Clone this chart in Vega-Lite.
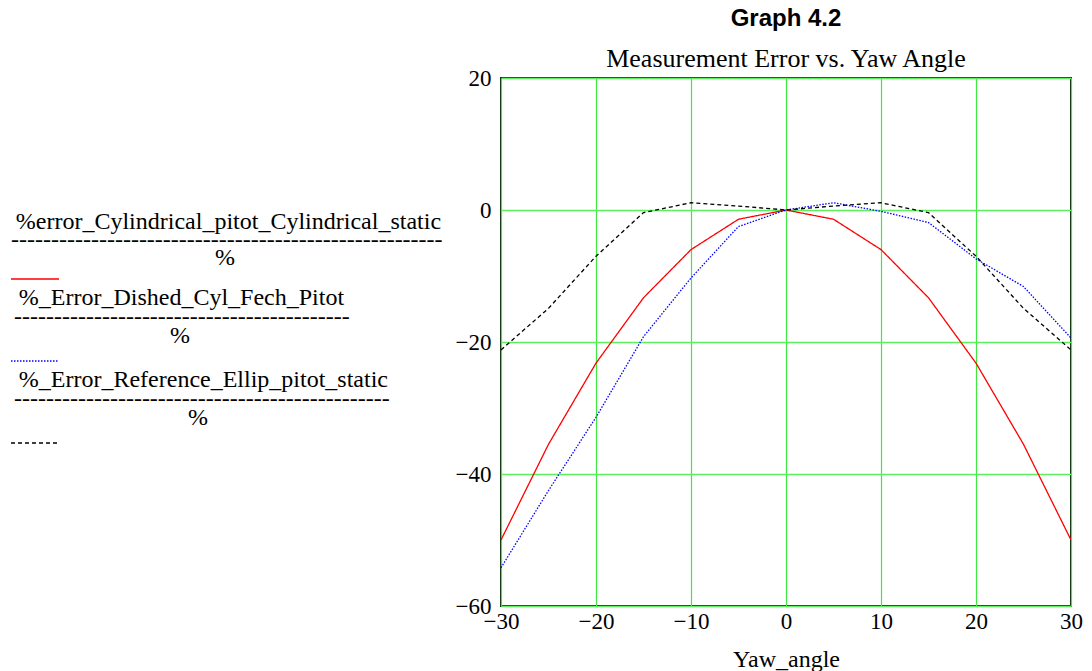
{
  "$schema": "https://vega.github.io/schema/vega-lite/v6.json",
  "width": 570,
  "height": 528,
  "autosize": {"type": "none"},
  "padding": {"left": 501, "top": 78, "right": 21, "bottom": 65},
  "background": "white",
  "title": {
    "text": "Graph 4.2",
    "subtitle": "Measurement Error vs. Yaw Angle",
    "anchor": "middle",
    "frame": "group",
    "font": "Liberation Sans",
    "fontSize": 24,
    "fontWeight": "bold",
    "color": "black",
    "subtitleFont": "Liberation Serif",
    "subtitleFontSize": 26,
    "subtitleColor": "black",
    "subtitlePadding": 15,
    "offset": -5
  },
  "data": {
    "values": [
      {"angle": -30, "series": "cyl", "err": -50.0},
      {"angle": -25, "series": "cyl", "err": -35.5},
      {"angle": -20, "series": "cyl", "err": -23.2},
      {"angle": -15, "series": "cyl", "err": -13.3},
      {"angle": -10, "series": "cyl", "err": -6.0},
      {"angle": -5, "series": "cyl", "err": -1.4},
      {"angle": 0, "series": "cyl", "err": 0.0},
      {"angle": 5, "series": "cyl", "err": -1.4},
      {"angle": 10, "series": "cyl", "err": -6.0},
      {"angle": 15, "series": "cyl", "err": -13.3},
      {"angle": 20, "series": "cyl", "err": -23.2},
      {"angle": 25, "series": "cyl", "err": -35.5},
      {"angle": 30, "series": "cyl", "err": -50.0},
      {"angle": -30, "series": "dished", "err": -54.2},
      {"angle": -25, "series": "dished", "err": -42.5},
      {"angle": -20, "series": "dished", "err": -31.4},
      {"angle": -15, "series": "dished", "err": -19.2},
      {"angle": -10, "series": "dished", "err": -10.3},
      {"angle": -5, "series": "dished", "err": -2.5},
      {"angle": 0, "series": "dished", "err": 0.0},
      {"angle": 5, "series": "dished", "err": 1.1},
      {"angle": 10, "series": "dished", "err": -0.2},
      {"angle": 15, "series": "dished", "err": -1.9},
      {"angle": 20, "series": "dished", "err": -7.4},
      {"angle": 25, "series": "dished", "err": -11.6},
      {"angle": 30, "series": "dished", "err": -19.4},
      {"angle": -30, "series": "ref", "err": -21.2},
      {"angle": -25, "series": "ref", "err": -14.9},
      {"angle": -20, "series": "ref", "err": -7.0},
      {"angle": -15, "series": "ref", "err": -0.4},
      {"angle": -10, "series": "ref", "err": 1.1},
      {"angle": -5, "series": "ref", "err": 0.6},
      {"angle": 0, "series": "ref", "err": 0.0},
      {"angle": 5, "series": "ref", "err": 0.6},
      {"angle": 10, "series": "ref", "err": 1.1},
      {"angle": 15, "series": "ref", "err": -0.4},
      {"angle": 20, "series": "ref", "err": -7.0},
      {"angle": 25, "series": "ref", "err": -14.9},
      {"angle": 30, "series": "ref", "err": -21.2}
    ]
  },
  "mark": {"type": "line", "strokeWidth": 1.3, "clip": true},
  "encoding": {
    "x": {
      "field": "angle",
      "type": "quantitative",
      "scale": {"domain": [-30, 30], "nice": false, "zero": false},
      "axis": {
        "values": [-30, -20, -10, 0, 10, 20, 30],
        "title": "Yaw_angle",
        "titleFont": "Liberation Serif",
        "titleFontSize": 24,
        "titleFontWeight": "normal",
        "titleColor": "black",
        "titlePadding": 14,
        "labelFont": "Liberation Serif",
        "labelFontSize": 23,
        "labelColor": "black",
        "labelPadding": 4,
        "labelDx": 3,
        "labelFlush": false,
        "labelOverlap": false,
        "domain": false,
        "ticks": false,
        "tickSize": 0,
        "grid": true,
        "gridColor": "#3ee83e",
        "gridWidth": 1.2,
        "gridOpacity": 1
      }
    },
    "y": {
      "field": "err",
      "type": "quantitative",
      "scale": {"domain": [-60, 20], "nice": false, "zero": false},
      "axis": {
        "values": [-60, -40, -20, 0, 20],
        "title": null,
        "labelFont": "Liberation Serif",
        "labelFontSize": 23,
        "labelColor": "black",
        "labelPadding": 10,
        "labelDy": 2,
        "labelFlush": false,
        "labelOverlap": false,
        "domain": false,
        "ticks": false,
        "tickSize": 0,
        "grid": true,
        "gridColor": "#5cf05c",
        "gridWidth": 1.6,
        "gridOpacity": 1
      }
    },
    "stroke": {
      "field": "series",
      "type": "nominal",
      "scale": {"domain": ["cyl", "dished", "ref"], "range": ["#ff0000", "#0000ff", "#000000"]},
      "legend": {
        "title": ["\u200b\u2009%error_Cylindrical_pitot_Cylindrical_static", "------------------------------------------------------", "\u200b\u00a0\u00a0\u00a0\u00a0\u00a0\u00a0\u00a0\u00a0\u00a0\u00a0\u00a0\u00a0\u00a0\u00a0\u00a0\u00a0\u00a0\u00a0\u00a0\u00a0\u00a0\u00a0\u00a0\u00a0\u00a0\u00a0\u00a0\u00a0\u00a0\u00a0\u00a0\u00a0\u00a0\u00a0%"],
        "titleFont": "Liberation Serif",
        "titleFontSize": 24,
        "titleFontWeight": "normal",
        "titleColor": "black",
        "titleLimit": 0,
        "titleLineHeight": 18,
        "titlePadding": -4,
        "titleAnchor": "start",
        "titleAlign": "left",
        "orient": "none",
        "legendX": -490,
        "legendY": 132,
        "symbolType": "M-2,0H2",
        "symbolSize": 576,
        "symbolStrokeWidth": 1.5,
        "symbolOffset": 11,
        "labelFont": "Liberation Serif",
        "labelFontSize": 24,
        "labelColor": "black",
        "labelLimit": 0,
        "labelBaseline": "middle",
        "labelOffset": -34,
        "rowPadding": 0,
        "labelExpr": "datum.label == 'cyl' ? ['', '\u200b\u2009%_Error_Dished_Cyl_Fech_Pitot', '------------------------------------------', '\u200b\u00a0\u00a0\u00a0\u00a0\u00a0\u00a0\u00a0\u00a0\u00a0\u00a0\u00a0\u00a0\u00a0\u00a0\u00a0\u00a0\u00a0\u00a0\u00a0\u00a0\u00a0\u00a0\u00a0\u00a0\u00a0\u00a0%'] : datum.label == 'dished' ? ['', '\u200b\u2009%_Error_Reference_Ellip_pitot_static', '-----------------------------------------------', '\u200b\u00a0\u00a0\u00a0\u00a0\u00a0\u00a0\u00a0\u00a0\u00a0\u00a0\u00a0\u00a0\u00a0\u00a0\u00a0\u00a0\u00a0\u00a0\u00a0\u00a0\u00a0\u00a0\u00a0\u00a0\u00a0\u00a0\u00a0\u00a0\u00a0%'] : ['']"
      }
    },
    "strokeDash": {
      "field": "series",
      "type": "nominal",
      "scale": {"domain": ["cyl", "dished", "ref"], "range": [[1, 0], [1.5, 1.5], [4, 3]]},
      "legend": null
    }
  },
  "config": {
    "view": {"stroke": "#142814", "strokeWidth": 2},
    "font": "Liberation Serif",
    "style": {"guide-label": {"lineHeight": 19}}
  }
}
